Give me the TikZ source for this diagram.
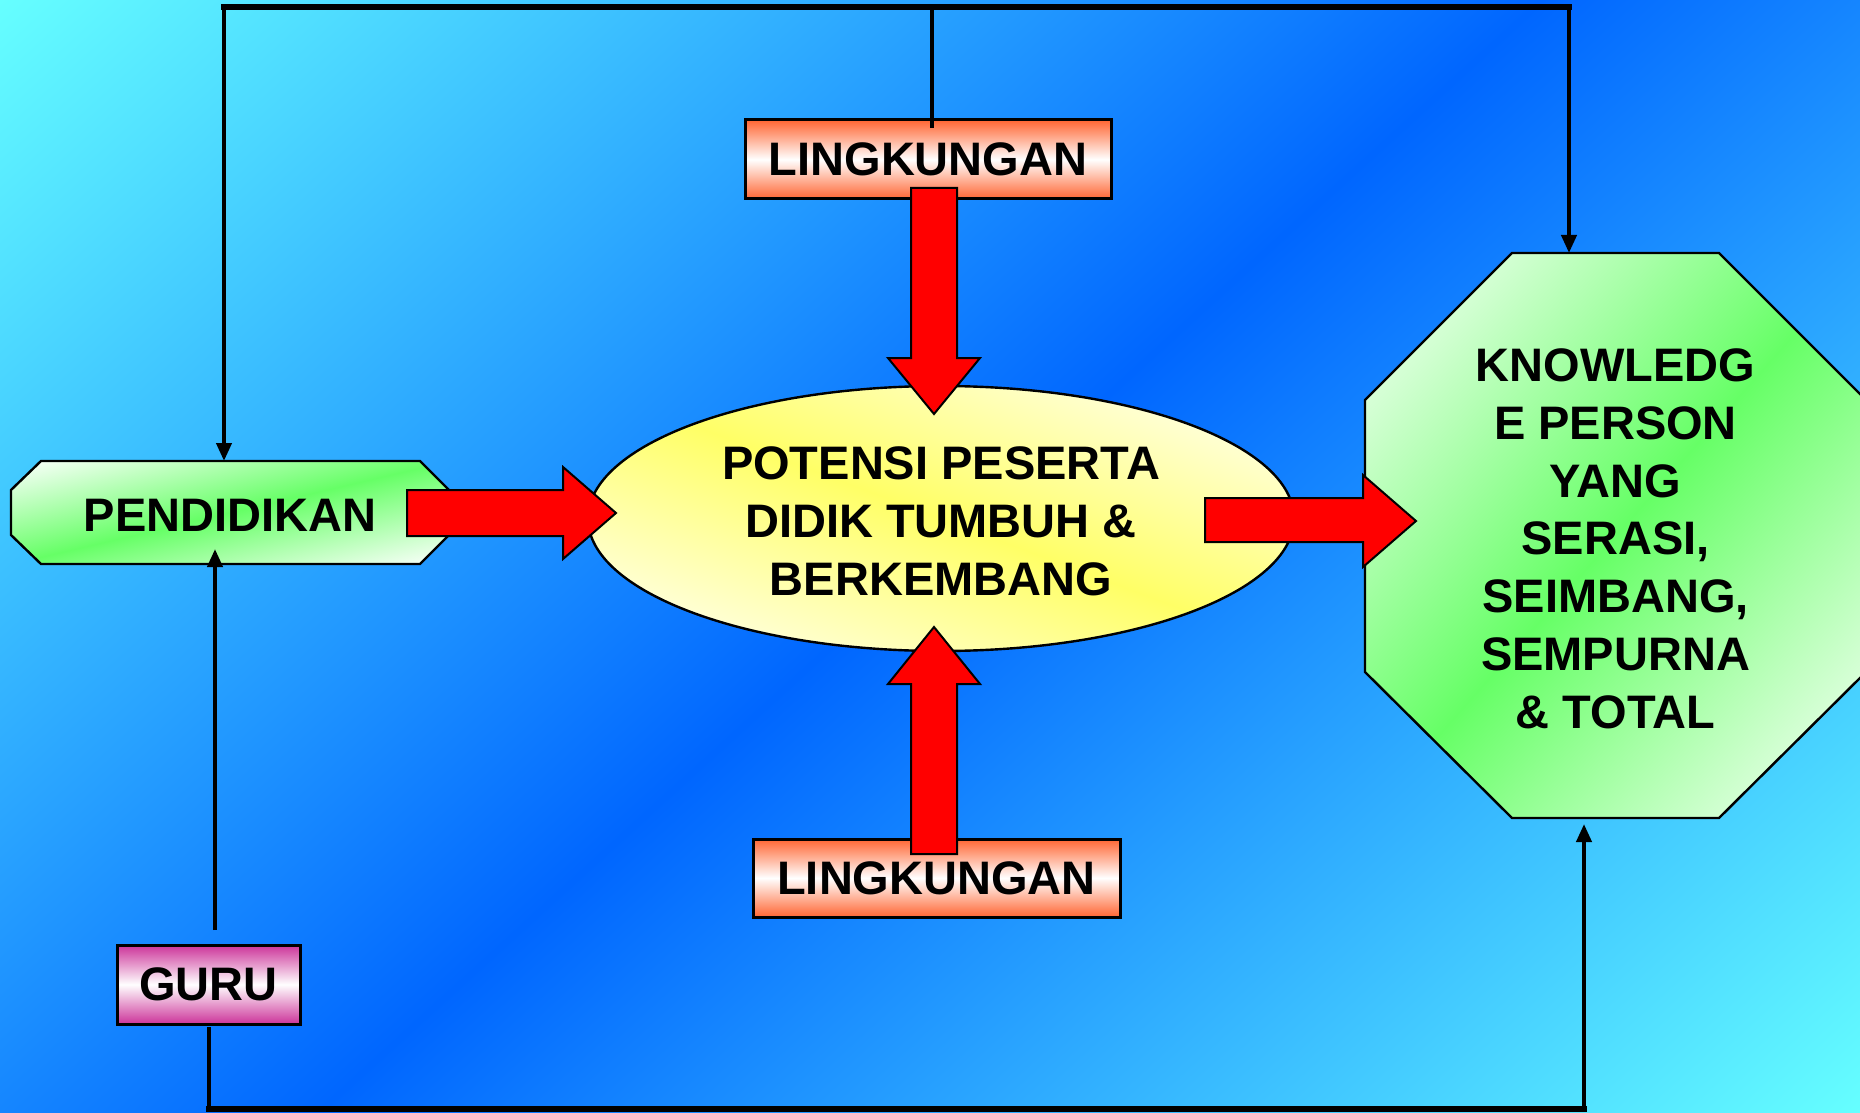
\documentclass[tikz,border=0pt]{standalone}
\usepackage{fontspec}
\setmainfont{Liberation Sans}
\usetikzlibrary{arrows.meta,shapes.geometric}
\definecolor{bgcyan}{HTML}{66FFFF}
\definecolor{bgblue}{HTML}{0066FF}
\definecolor{gr}{HTML}{66FF66}
\definecolor{yl}{HTML}{FFFF66}
\definecolor{org}{HTML}{FF6633}
\definecolor{mag}{HTML}{CC3399}
\newcommand\lbl{\fontsize{23.5}{28.9}\selectfont\bfseries}
% strut on the first line: lowers the text block by half of #1
\newcommand\dn[1]{\rule{0pt}{\dimexpr\fontcharht\font`O+#1\relax}}
% diagonal gradient, white at top-left and bottom-right
\newcommand\diagshadeA[6]{%
  \begin{scope}
    \clip #6;
    \begin{scope}[transform canvas={cm={#3,-#4,#3,#4,(#1,#2)}}]
      \shade[left color=white,right color=white,middle color=#5] (0pt,-50pt) rectangle (100pt,50pt);
    \end{scope}
  \end{scope}}
% diagonal gradient, white at bottom-left and top-right
\newcommand\diagshadeB[6]{%
  \begin{scope}
    \clip #6;
    \begin{scope}[transform canvas={cm={#3,#4,#3,-#4,(#1,#2)}}]
      \shade[left color=white,right color=white,middle color=#5] (0pt,-50pt) rectangle (100pt,50pt);
    \end{scope}
  \end{scope}}
\tikzset{
  outline/.style={draw=black,line width=1.2pt,line join=miter},
  box/.style={draw=black,line width=1.5pt,inner sep=0pt,outer sep=0pt,font=\lbl},
  lab/.style={inner sep=0pt,outer sep=0pt,font=\lbl,align=center},
  redarrow/.style={fill=red,draw=black,line width=1pt,line join=miter},
  conn/.style={draw=black,line width=2pt},
  heavy/.style={draw=black,line width=2.75pt,line cap=rect},
  tip/.style={-{Triangle[length=9pt,width=7.5pt]}}
}
\begin{document}
\begin{tikzpicture}[x=0.5pt,y=-0.5pt]
\useasboundingbox (0,0) rectangle (1860,1113);
% background
\begin{scope}
  \clip (0,0) rectangle (1860,1113);
  \begin{scope}[transform canvas={cm={7.71,-7.009,5.5,5,(0,0)}}]
    \shade[left color=bgcyan,right color=bgcyan,middle color=bgblue] (0pt,-100pt) rectangle (100pt,100pt);
  \end{scope}
\end{scope}

% PENDIDIKAN
\diagshadeA{11}{461}{2.19}{0.515}{gr}{(41,461) -- (420,461) -- (449,490) -- (449,535) -- (420,564) -- (41,564) -- (11,535) -- (11,490) -- cycle}
\draw[outline] (41,461) -- (420,461) -- (449,490) -- (449,535) -- (420,564) -- (41,564) -- (11,535) -- (11,490) -- cycle;
\node[lab,minimum width=219pt,minimum height=51.5pt] (pend) at (230,512.5) {\dn{3.3pt}PENDIDIKAN};

% octagon
\diagshadeA{1365}{253}{2.505}{2.825}{gr}{(1512,253) -- (1719,253) -- (1866,400) -- (1866,672) -- (1719,818) -- (1512,818) -- (1365,672) -- (1365,400) -- cycle}
\draw[outline] (1512,253) -- (1719,253) -- (1866,400) -- (1866,672) -- (1719,818) -- (1512,818) -- (1365,672) -- (1365,400) -- cycle;
\node[lab,minimum width=250.5pt,minimum height=282.5pt] (oct) at (1615.5,535.5) {\dn{3.5pt}KNOWLEDG\\E PERSON\\YANG\\SERASI,\\SEIMBANG,\\SEMPURNA\\\& TOTAL};

% ellipse
\diagshadeB{588}{651}{3.53}{1.325}{yl}{(941,518.5) ellipse [x radius=176.5pt, y radius=66.25pt]}
\node[outline,ellipse,minimum width=353pt,minimum height=132.5pt,inner sep=0pt,outer sep=0pt,align=center,font=\lbl] (pot) at (941,518.5) {\dn{3.3pt}POTENSI PESERTA\\DIDIK TUMBUH \&\\BERKEMBANG};

% boxes
\node[box,top color=org,bottom color=org,middle color=white,minimum width=183pt,minimum height=39.5pt] (lingtop) at (928,159.5) {LINGKUNGAN};
\node[box,top color=org,bottom color=org,middle color=white,minimum width=183.5pt,minimum height=39pt] (lingbot) at (936.5,878) {LINGKUNGAN};
\node[box,top color=mag,bottom color=mag,middle color=white,minimum width=91.5pt,minimum height=39.5pt] (guru) at (208.5,984.5) {GURU};

% red block arrows
\draw[redarrow] (911,188) -- (957,188) -- (957,358) -- (980,358) -- (934,414) -- (888,358) -- (911,358) -- cycle;
\draw[redarrow] (911,854) -- (957,854) -- (957,684) -- (980,684) -- (934,627) -- (888,684) -- (911,684) -- cycle;
\draw[redarrow] (407,490) -- (563,490) -- (563,467) -- (616,513) -- (563,559) -- (563,536) -- (407,536) -- cycle;
\draw[redarrow] (1205,498) -- (1363,498) -- (1363,475) -- (1416,521) -- (1363,567) -- (1363,542) -- (1205,542) -- cycle;

% black connectors
\coordinate (tl) at (224,7);
\coordinate (tr) at (1569,7);
\coordinate (tm) at (932,7);
\coordinate (bl) at (209,1109);
\coordinate (br) at (1584,1109);
\draw[heavy] (tl) -- (tr);
\draw[conn] ([xshift=2pt,yshift=-4pt]lingtop.north) -- (tm);
\draw[conn,tip] (tl) -- (tl |- pend.north);
\draw[conn,tip] (tr) -- (tr |- oct.north);
\draw[conn,tip] ([xshift=3.25pt,yshift=7.5pt]guru.north) -- ([xshift=3.25pt,yshift=7.5pt]guru.north |- pend.south);
\draw[conn] ([yshift=-1.5pt]guru.south) -- (guru.south |- bl);
\draw[heavy] (bl) -- (br);
\draw[conn,tip] (br) -- ([yshift=-3pt]br |- oct.south);
\end{tikzpicture}
\end{document}
